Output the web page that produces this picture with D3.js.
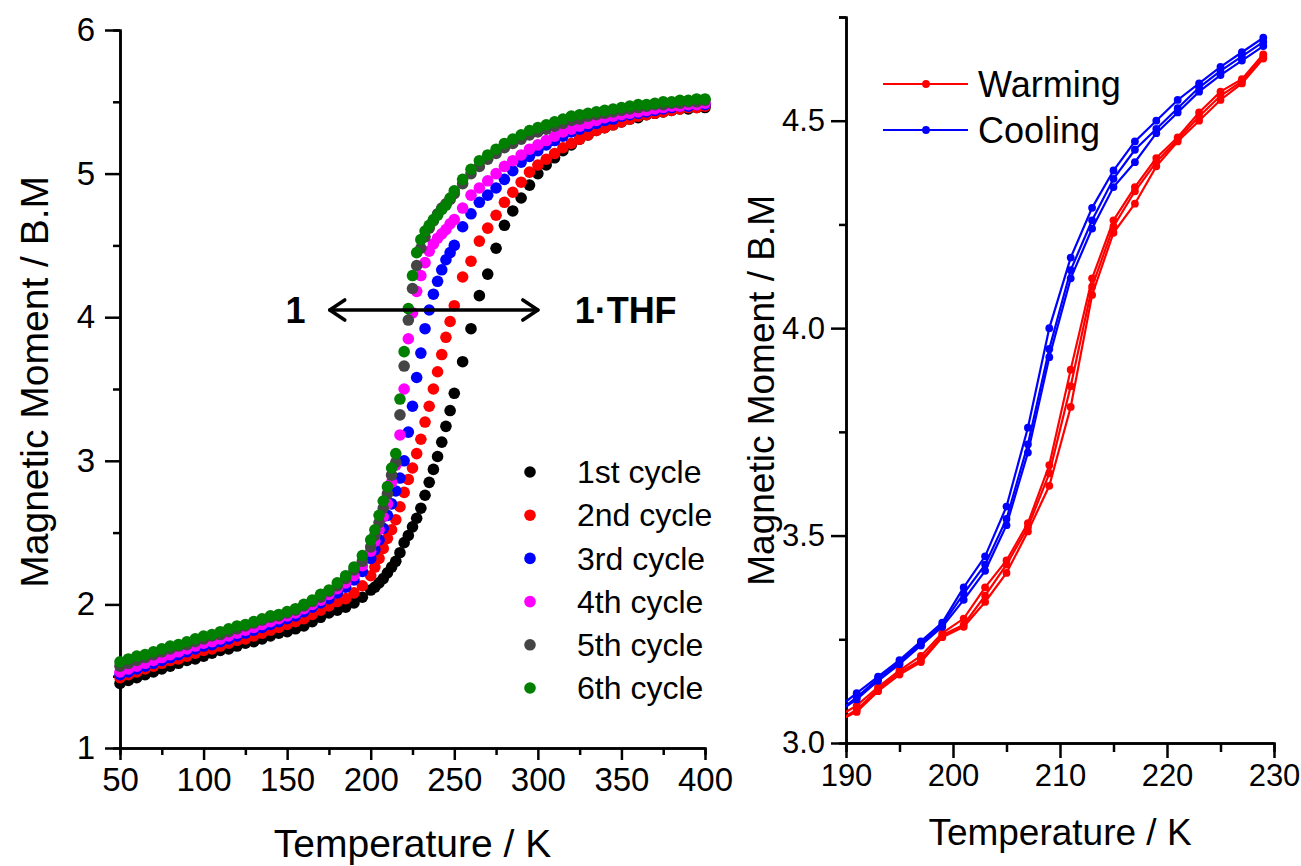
<!DOCTYPE html>
<html>
<head>
<meta charset="utf-8">
<script src="https://cdn.jsdelivr.net/npm/d3@7"></script>
<style>
  body { margin: 0; background: #fff; }
  svg { font-family: "Liberation Sans", Arial, sans-serif; }
</style>
</head>
<body>
<svg id="chart" width="1301" height="866"></svg>
<script>
// ---- left panel data: 6 thermal cycles ----
var temps = [50,55,60,65,70,75,80,85,90,95,
  100,105,110,115,120,125,130,135,140,145,
  150,155,160,165,170,175,180,185,190,195,
  200,202.5,205,207.5,210,212.5,215,217.5,220,222.5,
  225,227.5,230,232.5,235,237.5,240,242.5,245,247.5,
  250,
  255,260,265,270,275,280,285,290,295,300,
  305,310,315,320,325,330,335,340,345,350,
  355,360,365,370,375,380,385,390,395,400];

var cycle1 = [1.45,1.47,1.49,1.51,1.53,1.55,1.57,1.59,1.61,1.62,
  1.64,1.66,1.68,1.69,1.71,1.73,1.74,1.76,1.78,1.80,
  1.81,1.83,1.85,1.88,1.91,1.94,1.96,1.98,2.01,2.05,
  2.10,2.12,2.15,2.18,2.22,2.26,2.30,2.36,2.43,2.48,
  2.54,2.60,2.67,2.76,2.85,2.94,3.03,3.13,3.24,3.35,
  3.47,
  3.69,3.92,4.15,4.30,4.48,4.64,4.74,4.83,4.92,5.00,
  5.06,5.11,5.16,5.20,5.24,5.27,5.30,5.32,5.34,5.36,
  5.38,5.39,5.41,5.42,5.43,5.44,5.45,5.45,5.46,5.46];

var cycle2 = [1.49,1.51,1.53,1.55,1.57,1.59,1.61,1.62,1.64,1.66,
  1.68,1.69,1.71,1.73,1.75,1.76,1.78,1.80,1.82,1.84,
  1.86,1.88,1.90,1.93,1.96,1.99,2.02,2.04,2.08,2.13,
  2.20,2.26,2.32,2.39,2.46,2.52,2.59,2.68,2.78,2.87,
  2.95,3.05,3.15,3.27,3.38,3.50,3.62,3.74,3.86,3.97,
  4.08,
  4.28,4.39,4.53,4.62,4.71,4.80,4.87,4.94,5.01,5.06,
  5.10,5.14,5.18,5.21,5.24,5.27,5.30,5.32,5.34,5.36,
  5.38,5.40,5.41,5.42,5.43,5.44,5.45,5.46,5.46,5.47];

var cycle3 = [1.51,1.53,1.55,1.57,1.59,1.61,1.63,1.65,1.67,1.69,
  1.71,1.72,1.74,1.76,1.78,1.80,1.82,1.84,1.86,1.88,
  1.90,1.92,1.95,1.98,2.01,2.04,2.08,2.12,2.17,2.23,
  2.32,2.38,2.45,2.53,2.62,2.70,2.79,2.88,3.00,3.20,
  3.38,3.58,3.75,3.92,4.05,4.16,4.25,4.33,4.40,4.45,
  4.50,
  4.63,4.72,4.80,4.85,4.90,4.96,5.02,5.08,5.12,5.16,
  5.20,5.23,5.26,5.29,5.31,5.33,5.35,5.37,5.38,5.40,
  5.41,5.42,5.43,5.44,5.45,5.46,5.47,5.47,5.48,5.48];

var cycle4 = [1.53,1.55,1.57,1.59,1.61,1.63,1.65,1.67,1.69,1.71,
  1.73,1.74,1.76,1.78,1.80,1.82,1.84,1.86,1.88,1.90,
  1.92,1.94,1.97,2.00,2.03,2.07,2.11,2.15,2.20,2.27,
  2.37,2.44,2.52,2.61,2.70,2.85,2.97,3.18,3.50,3.85,
  4.03,4.18,4.29,4.38,4.46,4.51,4.55,4.58,4.61,4.65,
  4.68,
  4.76,4.85,4.90,4.95,5.00,5.05,5.09,5.13,5.17,5.20,
  5.23,5.26,5.29,5.31,5.33,5.35,5.37,5.39,5.40,5.41,
  5.42,5.43,5.44,5.45,5.46,5.47,5.47,5.48,5.48,5.49];

var cycle5 = [1.57,1.59,1.61,1.63,1.65,1.67,1.69,1.71,1.72,1.74,
  1.76,1.78,1.79,1.81,1.83,1.85,1.87,1.89,1.91,1.92,
  1.94,1.96,1.99,2.02,2.05,2.09,2.13,2.18,2.24,2.30,
  2.40,2.48,2.57,2.67,2.77,2.90,2.99,3.32,3.66,3.98,
  4.20,4.36,4.48,4.56,4.62,4.67,4.72,4.76,4.79,4.82,
  4.86,
  4.93,5.00,5.05,5.10,5.14,5.18,5.21,5.24,5.27,5.29,
  5.31,5.33,5.35,5.37,5.38,5.40,5.41,5.42,5.43,5.44,
  5.45,5.46,5.47,5.48,5.48,5.49,5.49,5.50,5.50,5.51];

var cycle6 = [1.60,1.62,1.64,1.65,1.67,1.69,1.71,1.72,1.74,1.76,
  1.78,1.79,1.81,1.83,1.85,1.86,1.88,1.90,1.92,1.93,
  1.95,1.97,2.00,2.03,2.07,2.10,2.15,2.20,2.26,2.34,
  2.45,2.52,2.62,2.72,2.82,2.95,3.05,3.43,3.76,4.06,
  4.29,4.45,4.54,4.60,4.64,4.68,4.71,4.75,4.78,4.83,
  4.88,
  4.96,5.03,5.09,5.13,5.17,5.21,5.24,5.27,5.30,5.32,
  5.34,5.36,5.38,5.40,5.41,5.42,5.43,5.44,5.45,5.46,
  5.47,5.48,5.48,5.49,5.50,5.50,5.51,5.51,5.52,5.52];

var cycleNames = ["1st cycle","2nd cycle","3rd cycle","4th cycle","5th cycle","6th cycle"];
var cycleColors = ["#000000","#ff0000","#0000ff","#ff00ff","#454545","#007f00"];
var leftXTicks = [50,100,150,200,250,300,350,400];
var leftYTicks = [1,2,3,4,5,6];

// ---- right panel data: warming / cooling, 3 runs each ----
var rightTemps = [189,191,193,195,197,199,201,203,205,207,209,211,213,215,217,219,221,223,225,227,229];
var warming1 = [3.06,3.09,3.135,3.175,3.21,3.265,3.30,3.375,3.44,3.53,3.67,3.90,4.12,4.26,4.34,4.41,4.46,4.52,4.57,4.60,4.66];
var warming2 = [3.05,3.08,3.13,3.17,3.20,3.26,3.285,3.355,3.43,3.52,3.65,3.86,4.10,4.245,4.33,4.40,4.455,4.51,4.56,4.595,4.655];
var warming3 = [3.05,3.075,3.125,3.165,3.195,3.255,3.28,3.34,3.41,3.51,3.62,3.81,4.08,4.23,4.30,4.39,4.45,4.50,4.55,4.59,4.65];
var cooling1 = [3.08,3.12,3.16,3.20,3.245,3.29,3.375,3.45,3.57,3.76,4.00,4.17,4.29,4.38,4.45,4.50,4.55,4.59,4.63,4.665,4.70];
var cooling2 = [3.07,3.11,3.155,3.195,3.24,3.285,3.36,3.43,3.54,3.72,3.95,4.14,4.26,4.36,4.43,4.48,4.53,4.58,4.62,4.655,4.69];
var cooling3 = [3.07,3.105,3.15,3.19,3.235,3.28,3.345,3.415,3.525,3.70,3.93,4.12,4.24,4.34,4.40,4.47,4.52,4.57,4.61,4.645,4.68];
var rightXTicks = [190,200,210,220,230];
var rightYTicks = [3.0,3.5,4.0,4.5];

var svg = d3.select("#chart");

function styleAxis(g, fontSize) {
  g.attr("font-size", fontSize).attr("font-family", null);
  g.select(".domain").attr("stroke", "#000").attr("stroke-width", 2.5);
  g.selectAll(".tick line").attr("stroke", "#000").attr("stroke-width", 2.5);
  g.selectAll(".tick text").attr("fill", "#000");
}

// ================= LEFT PANEL =================
var xL = d3.scaleLinear().domain([50, 400]).range([120, 705]);
var yL = d3.scaleLinear().domain([1, 6]).range([748, 30]);

// minor ticks
svg.append("g")
  .attr("transform", "translate(0," + yL(1) + ")")
  .call(d3.axisBottom(xL).tickValues([75,125,175,225,275,325,375]).tickSize(7).tickFormat(""))
  .call(styleAxis, 30);
svg.append("g")
  .attr("transform", "translate(" + xL(50) + ",0)")
  .call(d3.axisLeft(yL).tickValues([1.5,2.5,3.5,4.5,5.5]).tickSize(7).tickFormat(""))
  .call(styleAxis, 30);

svg.append("g")
  .attr("transform", "translate(0," + yL(1) + ")")
  .call(d3.axisBottom(xL).tickValues(leftXTicks).tickSize(12).tickSizeOuter(0).tickPadding(8).tickFormat(d3.format("d")))
  .call(styleAxis, 33);
svg.append("g")
  .attr("transform", "translate(" + xL(50) + ",0)")
  .call(d3.axisLeft(yL).tickValues(leftYTicks).tickSize(15).tickSizeOuter(0).tickPadding(10).tickFormat(d3.format("d")))
  .call(styleAxis, 33);

var cycles = [cycle1, cycle2, cycle3, cycle4, cycle5, cycle6];
cycles.forEach(function(vals, k) {
  svg.append("g").selectAll("circle")
    .data(vals)
    .enter()
    .append("circle")
    .attr("cx", function(d, i) { return xL(temps[i]); })
    .attr("cy", function(d) { return yL(d); })
    .attr("r", 5.8)
    .attr("fill", cycleColors[k]);
});

// annotation arrow 1 <-> 1.THF
var ay = yL(4.05);
var ax1 = xL(175.5), ax2 = xL(300);
var ann = svg.append("g").attr("stroke", "#000").attr("stroke-width", 3.6)
  .attr("fill", "none").attr("stroke-linecap", "round").attr("stroke-linejoin", "round");
ann.append("line").attr("x1", ax1).attr("x2", ax2).attr("y1", ay).attr("y2", ay);
ann.append("path").attr("d", "M" + (ax1 + 15) + "," + (ay - 10) + "L" + ax1 + "," + ay + "L" + (ax1 + 15) + "," + (ay + 10));
ann.append("path").attr("d", "M" + (ax2 - 15) + "," + (ay - 10) + "L" + ax2 + "," + ay + "L" + (ax2 - 15) + "," + (ay + 10));
svg.append("text").attr("x", xL(155)).attr("y", ay + 13)
  .attr("text-anchor", "middle").attr("font-size", 36).attr("font-weight", "bold").text("1");
svg.append("text").attr("x", xL(322)).attr("y", ay + 13)
  .attr("text-anchor", "start").attr("font-size", 36).attr("font-weight", "bold").text("1\u00b7THF");

// legend
var leg = svg.append("g");
cycleNames.forEach(function(name, k) {
  var ly = 472 + k * 43.2;
  leg.append("circle").attr("cx", 530).attr("cy", ly).attr("r", 5.8).attr("fill", cycleColors[k]);
  leg.append("text").attr("x", 577).attr("y", ly).attr("dy", "0.35em")
    .attr("font-size", 32).text(name);
});

// titles
svg.append("text").attr("x", xL(225)).attr("y", 857)
  .attr("text-anchor", "middle").attr("font-size", 39).text("Temperature / K");
svg.append("text").attr("transform", "translate(48," + yL(3.55) + ") rotate(-90)")
  .attr("text-anchor", "middle").attr("font-size", 39).text("Magnetic Moment / B.M");

// ================= RIGHT PANEL =================
var xR = d3.scaleLinear().domain([190, 230]).range([846, 1274]);
var yR = d3.scaleLinear().domain([3.0, 4.75]).range([743, 17]);

svg.append("defs").append("clipPath").attr("id", "clipR")
  .append("rect").attr("x", xR(190)).attr("y", yR(4.75) - 10)
  .attr("width", xR(230) - xR(190) + 10).attr("height", yR(3.0) - yR(4.75) + 10);

svg.append("g")
  .attr("transform", "translate(0," + yR(3.0) + ")")
  .call(d3.axisBottom(xR).tickValues([195,205,215,225]).tickSize(9).tickFormat(""))
  .call(styleAxis, 30);
svg.append("g")
  .attr("transform", "translate(" + xR(190) + ",0)")
  .call(d3.axisLeft(yR).tickValues([3.25,3.75,4.25,4.75]).tickSize(7).tickFormat(""))
  .call(styleAxis, 30);

svg.append("g")
  .attr("transform", "translate(0," + yR(3.0) + ")")
  .call(d3.axisBottom(xR).tickValues(rightXTicks).tickSize(15).tickSizeOuter(0).tickPadding(6).tickFormat(d3.format("d")))
  .call(styleAxis, 31);
svg.append("g")
  .attr("transform", "translate(" + xR(190) + ",0)")
  .call(d3.axisLeft(yR).tickValues(rightYTicks).tickSize(15).tickSizeOuter(0).tickPadding(6).tickFormat(d3.format(".1f")))
  .call(styleAxis, 31);

var runs = [
  { vals: warming1, color: "#ff0000" }, { vals: warming2, color: "#ff0000" }, { vals: warming3, color: "#ff0000" },
  { vals: cooling1, color: "#0000ff" }, { vals: cooling2, color: "#0000ff" }, { vals: cooling3, color: "#0000ff" }
];
var lineR = d3.line()
  .x(function(d, i) { return xR(rightTemps[i]); })
  .y(function(d) { return yR(d); });

var plotR = svg.append("g").attr("clip-path", "url(#clipR)");
runs.forEach(function(run) {
  plotR.append("path").datum(run.vals)
    .attr("d", lineR)
    .attr("fill", "none")
    .attr("stroke", run.color)
    .attr("stroke-width", 2.2);
  plotR.append("g").selectAll("circle")
    .data(run.vals)
    .enter()
    .append("circle")
    .attr("cx", function(d, i) { return xR(rightTemps[i]); })
    .attr("cy", function(d) { return yR(d); })
    .attr("r", 3.9)
    .attr("fill", run.color);
});

// right legend
var legR = svg.append("g");
[["Warming", "#ff0000"], ["Cooling", "#0000ff"]].forEach(function(e, k) {
  var ly = 84 + k * 46;
  legR.append("line").attr("x1", 883).attr("x2", 968).attr("y1", ly).attr("y2", ly)
    .attr("stroke", e[1]).attr("stroke-width", 2.2);
  legR.append("circle").attr("cx", 926).attr("cy", ly).attr("r", 3.9).attr("fill", e[1]);
  legR.append("text").attr("x", 978).attr("y", ly).attr("dy", "0.35em")
    .attr("font-size", 36).text(e[0]);
});

svg.append("text").attr("x", xR(210)).attr("y", 845)
  .attr("text-anchor", "middle").attr("font-size", 37).text("Temperature / K");
svg.append("text").attr("transform", "translate(774," + yR(3.85) + ") rotate(-90)")
  .attr("text-anchor", "middle").attr("font-size", 37).text("Magnetic Moment / B.M");
</script>
</body>
</html>
